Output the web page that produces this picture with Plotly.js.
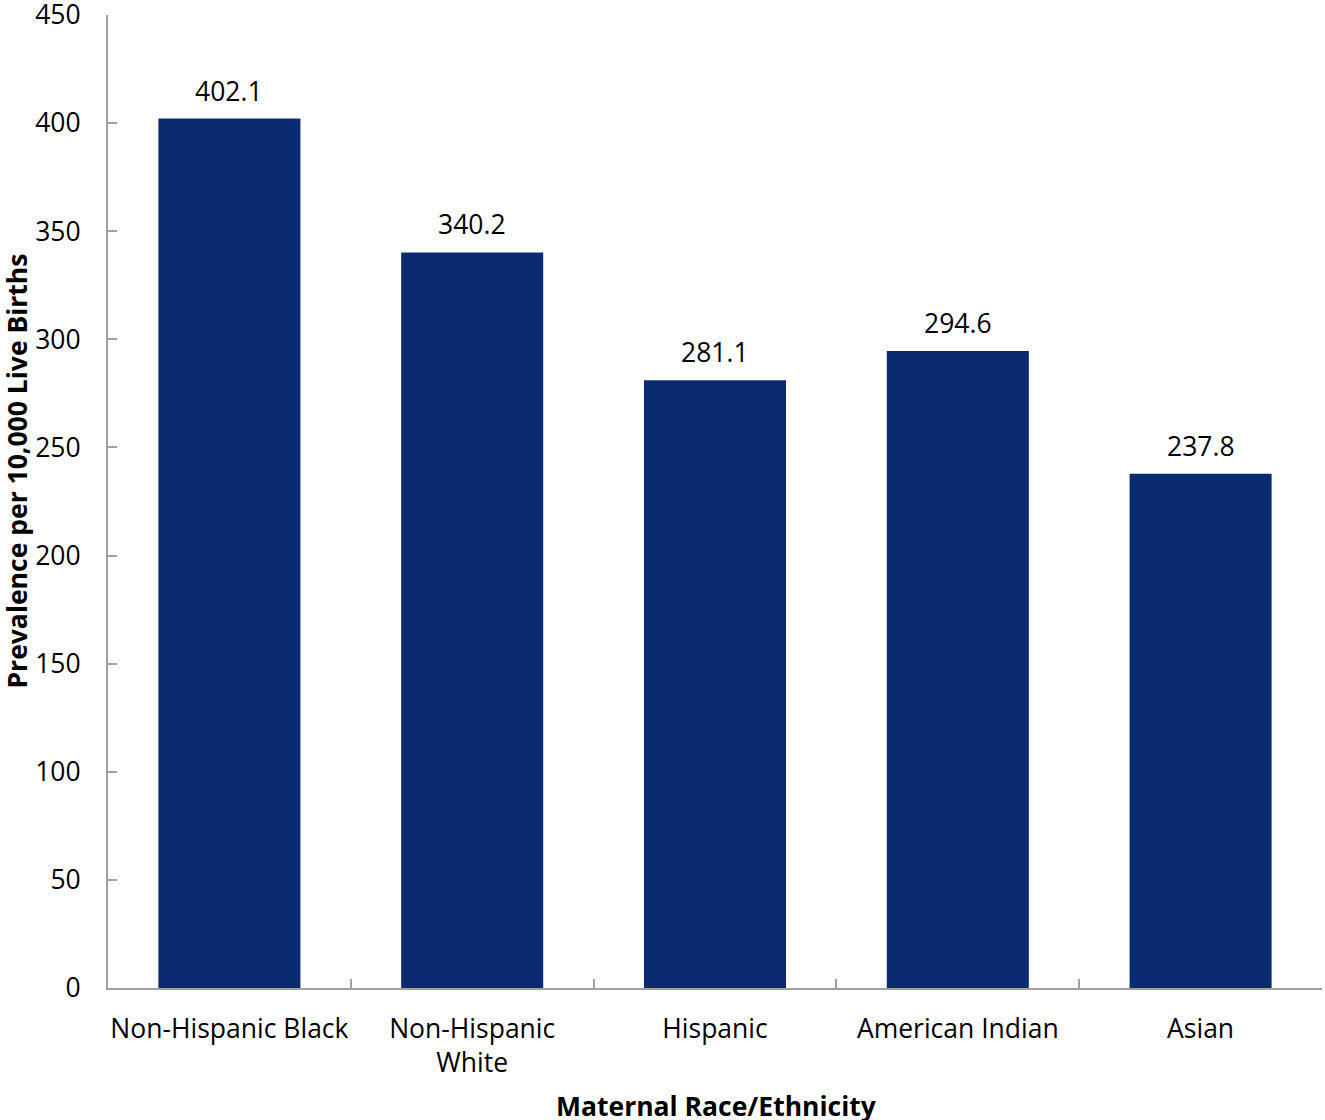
<!DOCTYPE html>
<html>
<head>
<meta charset="utf-8">
<script src="https://cdn.plot.ly/plotly-3.0.1.min.js"></script>
<style>html,body{margin:0;padding:0;background:#fff;}#chart{width:1325px;height:1120px;}</style>
</head>
<body>
<div id="chart"></div>
<script>
const categories = ["Non-Hispanic Black", "Non-Hispanic<br>White", "Hispanic", "American Indian", "Asian"];
const prevalence = [402.1, 340.2, 281.1, 294.6, 237.8];
const valueLabels = ["402.1", "340.2", "281.1", "294.6", "237.8"];
const yTickValues = [0, 50, 100, 150, 200, 250, 300, 350, 400, 450];
const xTitle = "Maternal Race/Ethnicity";
const yTitle = "Prevalence per 10,000 Live Births";

const font = "Open Sans, Noto Sans, sans-serif";
const fs = 26.5;

const annotations = categories.map((c, i) => ({
  x: c, y: prevalence[i], xref: "x", yref: "y",
  text: valueLabels[i], showarrow: false,
  yanchor: "bottom", yshift: 8,
  font: {family: font, size: fs, color: "#000"}
}));
annotations.push({
  xref: "paper", yref: "paper", x: 0, y: 0.5308, xshift: -91,
  xanchor: "center", yanchor: "middle",
  textangle: -90, showarrow: false,
  text: "<b>" + yTitle + "</b>",
  font: {family: font, size: fs, color: "#000"}
});
annotations.push({
  xref: "paper", yref: "paper", x: 0.5, y: 0, yshift: -118, xshift: 1,
  xanchor: "center", yanchor: "middle", showarrow: false,
  text: "<b>" + xTitle + "</b>",
  font: {family: font, size: fs, color: "#000"}
});

Plotly.newPlot("chart", [{
  type: "bar",
  x: categories,
  y: prevalence,
  marker: {color: "#0a2b71"},
  hoverinfo: "skip"
}], {
  width: 1325,
  height: 1120,
  margin: {l: 108, r: 3, t: 15, b: 132},
  paper_bgcolor: "#fff",
  plot_bgcolor: "#fff",
  bargap: 0.415,
  showlegend: false,
  font: {family: font, size: fs, color: "#000"},
  annotations: annotations,
  xaxis: {
    type: "category",
    automargin: false,
    tickangle: 0,
    showline: true,
    linecolor: "#a0a0a0",
    linewidth: 2,
    ticks: "inside",
    tickson: "boundaries",
    ticklen: 9,
    tickwidth: 2,
    tickcolor: "#a0a0a0",
    ticklabelstandoff: 16,
    tickfont: {family: font, size: fs, color: "#000"},
    showgrid: false,
    zeroline: false
  },
  yaxis: {
    range: [0, 450.001],
    automargin: false,
    tickvals: yTickValues,
    ticklabeloverflow: "allow",
    showline: true,
    linecolor: "#a0a0a0",
    linewidth: 2,
    ticks: "inside",
    ticklen: 9,
    tickwidth: 2,
    tickcolor: "#a0a0a0",
    ticklabelstandoff: 20,
    tickfont: {family: font, size: fs, color: "#000"},
    showgrid: false,
    zeroline: false
  }
}, {displayModeBar: false, staticPlot: true});
</script>
</body>
</html>
